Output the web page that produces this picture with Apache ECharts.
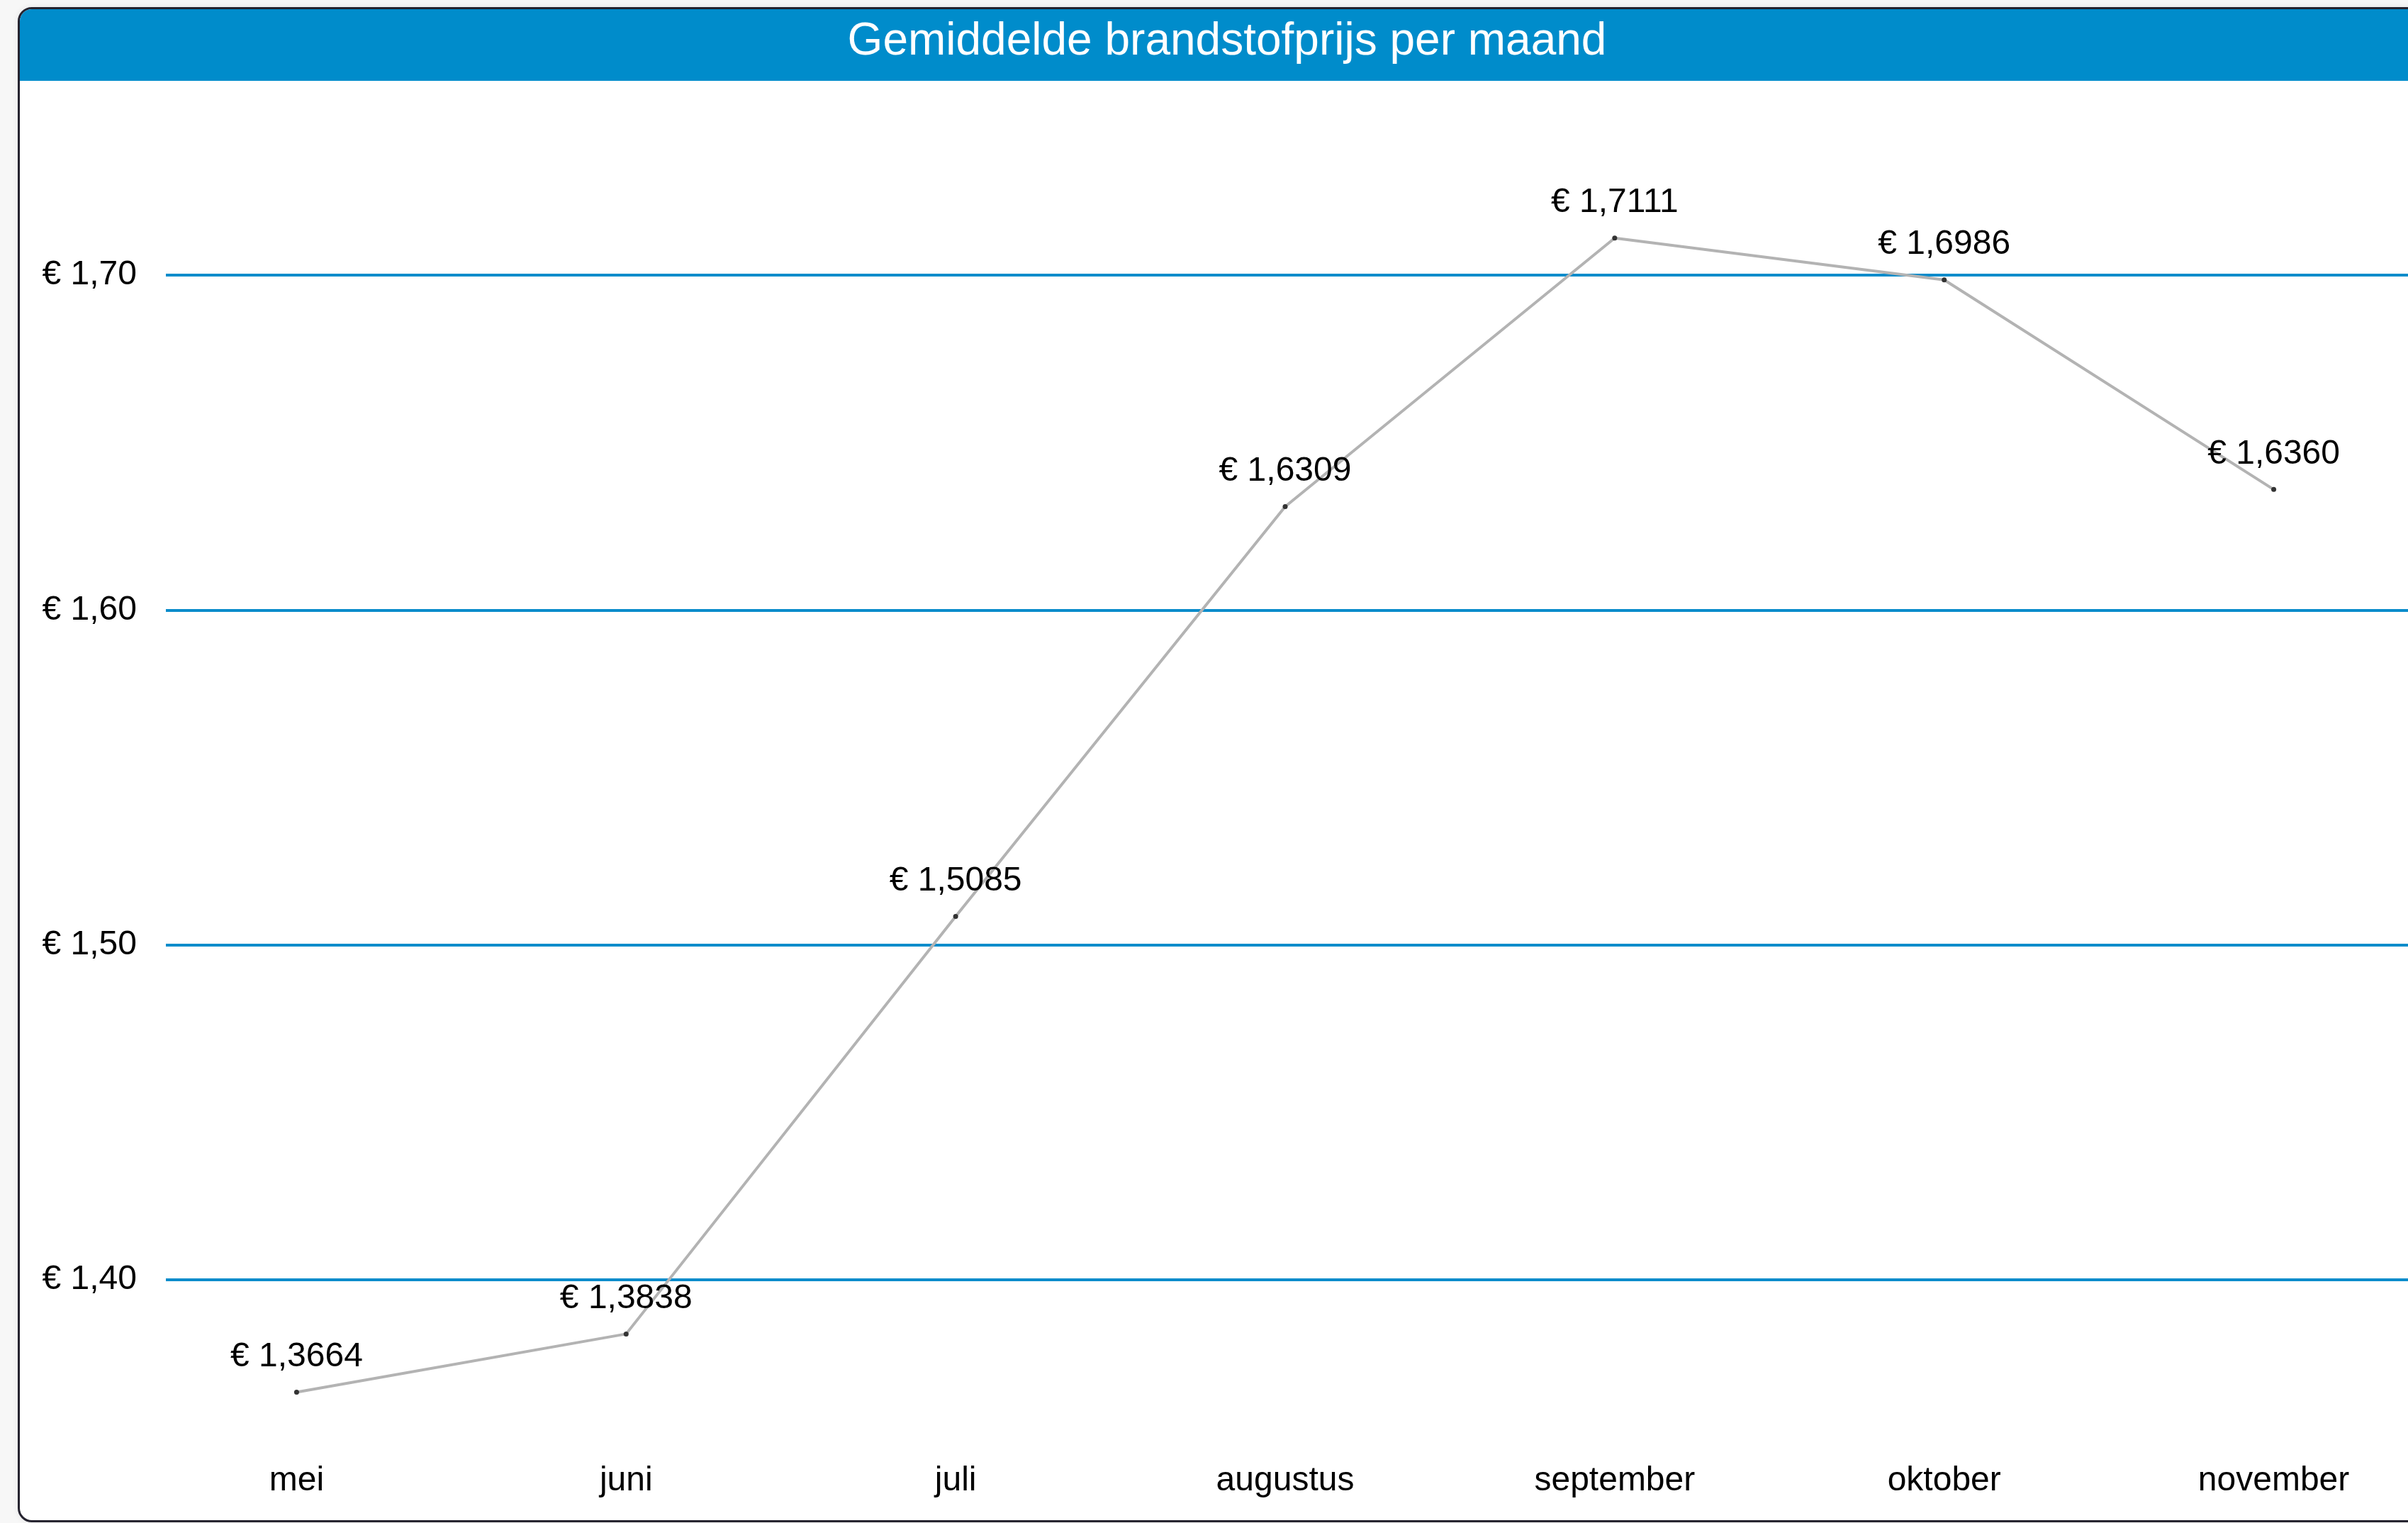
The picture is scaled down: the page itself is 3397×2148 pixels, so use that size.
<!DOCTYPE html>
<html>
<head>
<meta charset="utf-8">
<title>Gemiddelde brandstofprijs per maand</title>
<script src="https://cdn.jsdelivr.net/npm/echarts@6/dist/echarts.min.js"></script>
<style>
  html, body { margin: 0; padding: 0; width: 3397px; height: 2148px; overflow: hidden; background: #f7f7f7; }
  #panel {
    position: absolute; left: 25px; top: 10px; width: 3420px; height: 2131px;
    border: 3px solid #25232f; border-radius: 20px; background: #fff;
    box-shadow: 0 0 8px rgba(0, 0, 0, 0.08); overflow: hidden;
  }
  #header { position: absolute; left: 0; top: 0; right: 0; height: 101px; background: #008ccb; }
  #chart { position: absolute; left: 0; top: 0; width: 3397px; height: 2148px; }
</style>
</head>
<body>
<div id="panel"><div id="header"></div></div>
<div id="chart"></div>
<script>
  const months = ['mei', 'juni', 'juli', 'augustus', 'september', 'oktober', 'november'];
  const prices = [1.3664, 1.3838, 1.5085, 1.6309, 1.7111, 1.6986, 1.6360];
  const yMin = 1.35;
  const yMax = 1.75;
  const yStep = 0.05;

  const euro = (v, digits) => `€ ${v.toFixed(digits).replace('.', ',')}`;
  const font = 'Liberation Sans, Arial, sans-serif';

  const myChart = echarts.init(document.getElementById('chart'));
  const option = {
    backgroundColor: 'transparent',
    animation: false,
    title: {
      text: 'Gemiddelde brandstofprijs per maand',
      left: 1726,
      textAlign: 'center',
      top: 22,
      textStyle: { color: '#fff', fontSize: 64, fontWeight: 'normal', fontFamily: font }
    },
    grid: [
      { left: 234, right: 0, top: 152, bottom: 107, outerBoundsMode: 'none' },
      { left: 186, width: 3254, top: 152, bottom: 107, outerBoundsMode: 'none' }
    ],
    xAxis: [
      { type: 'value', gridIndex: 0, show: false },
      {
        type: 'category',
        gridIndex: 1,
        data: months,
        axisLine: { show: false },
        axisTick: { show: false },
        axisLabel: { color: '#000', fontSize: 48, fontFamily: font, margin: 24 }
      }
    ],
    yAxis: [
      {
        type: 'value',
        gridIndex: 0,
        min: yMin,
        max: yMax,
        interval: yStep,
        axisLine: { show: false },
        axisTick: { show: false },
        axisLabel: {
          color: '#000',
          fontSize: 48,
          fontFamily: font,
          margin: 41,
          formatter(v) {
            const c = Math.round(v * 100);
            return c % 10 === 0 ? euro(c / 100, 2) : '';
          }
        },
        splitLine: {
          show: true,
          lineStyle: { color: ['rgba(0,0,0,0)', '#0a8ccb'], width: 4 }
        }
      },
      { type: 'value', gridIndex: 1, min: yMin, max: yMax, show: false }
    ],
    series: [
      {
        type: 'line',
        xAxisIndex: 1,
        yAxisIndex: 1,
        data: prices,
        symbol: 'circle',
        symbolSize: 7,
        lineStyle: { color: '#b3b3b3', width: 4 },
        itemStyle: { color: '#333' },
        label: {
          show: true,
          position: 'top',
          distance: 22,
          color: '#000',
          fontSize: 48,
          fontFamily: font,
          formatter: (p) => euro(p.value, 4)
        }
      }
    ]
  };
  myChart.setOption(option);
</script>
</body>
</html>
